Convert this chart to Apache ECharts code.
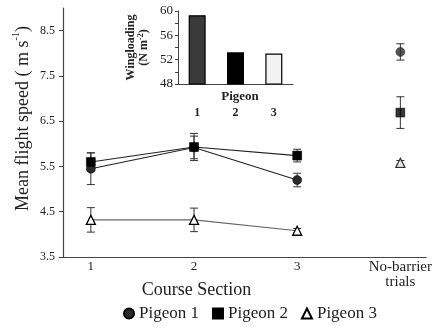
<!DOCTYPE html>
<html><head><meta charset="utf-8">
<script src="https://cdn.jsdelivr.net/npm/echarts@6/dist/echarts.min.js"></script>
<style>html,body{margin:0;padding:0;background:#fff}#c{width:435px;height:326px}</style>
</head><body><div id="c"></div>
<script>
const sections = [1, 2, 3];
const noBarrierX = 4;
const xTickLabels = ['1', '2', '3', 'No-barrier\ntrials'];
const yTickValues = [3.5, 4.5, 5.5, 6.5, 7.5, 8.5];
const pigeonNames = ['Pigeon 1', 'Pigeon 2', 'Pigeon 3'];
const p1Speed = [5.45, 5.92, 5.20];
const p1Err = [0.35, 0.25, 0.15];
const p2Speed = [5.60, 5.93, 5.74];
const p2Err = [0.20, 0.30, 0.14];
const p3Speed = [4.32, 4.32, 4.08];
const p3Err = [0.27, 0.26, 0.05];
const noBarrierSpeed = [8.03, 6.69, 5.58];
const noBarrierErr = [0.18, 0.35, 0.05];
const insetCategories = ['1', '2', '3'];
const wingloading = [59.3, 53.2, 53.0];

const FONT = '"Liberation Serif", "Times New Roman", serif';
const INK = '#222';
const speeds = [p1Speed, p2Speed, p3Speed];
const errs = [p1Err, p2Err, p3Err];
const symbols = ['circle', 'rect', 'triangle'];
const symSizes = [9, 9, 9];
const fills = ['#2a2a2a', '#000', '#fff'];
const lineColors = ['#222', '#222', '#666'];

function errBar(params, api) {
  const x = api.value(0), y = api.value(1), e = api.value(2);
  const top = api.coord([x, y + e]);
  const bot = api.coord([x, y - e]);
  const w = 4;
  const st = { stroke: '#333', lineWidth: 1 };
  return { type: 'group', children: [
    { type: 'line', shape: { x1: top[0], y1: top[1], x2: bot[0], y2: bot[1] }, style: st },
    { type: 'line', shape: { x1: top[0] - w, y1: top[1], x2: top[0] + w, y2: top[1] }, style: st },
    { type: 'line', shape: { x1: bot[0] - w, y1: bot[1], x2: bot[0] + w, y2: bot[1] }, style: st }
  ]};
}

const series = [];
for (let i = 0; i < 3; i++) {
  const itemStyle = { color: fills[i], borderColor: '#000', borderWidth: i === 2 ? 1.3 : 0.5 };
  series.push({
    type: 'custom', xAxisIndex: 0, yAxisIndex: 0, z: 1, renderItem: errBar, silent: true,
    data: sections.map((s, k) => [s, speeds[i][k], errs[i][k]]).concat([[noBarrierX, noBarrierSpeed[i], noBarrierErr[i]]])
  });
  series.push({
    name: pigeonNames[i], type: 'line', xAxisIndex: 0, yAxisIndex: 0, z: 3,
    data: sections.map((s, k) => [s, speeds[i][k]]),
    symbol: symbols[i], symbolSize: symSizes[i], showAllSymbol: true,
    lineStyle: { color: lineColors[i], width: 1.1 }, itemStyle, animation: false
  });
  series.push({
    name: pigeonNames[i], type: 'scatter', xAxisIndex: 0, yAxisIndex: 0, z: 3,
    data: [[noBarrierX, noBarrierSpeed[i]]],
    symbol: symbols[i], symbolSize: symSizes[i], itemStyle, animation: false
  });
}
const barFills = ['#3a3a3a', '#000', '#f2f2f2'];
series.push({
  type: 'bar', xAxisIndex: 1, yAxisIndex: 1, barWidth: 17, animation: false,
  data: wingloading.map((v, i) => ({ value: v, itemStyle: { color: barFills[i], borderColor: '#000', borderWidth: 1.2 } }))
});

const chart = echarts.init(document.getElementById('c'), null, { renderer: 'canvas' });
chart.setOption({
  animation: false,
  textStyle: { fontFamily: FONT, color: INK },
  grid: [
    { left: 63, right: 2, top: 8, bottom: 69 },
    { left: 178, right: 142, top: 11, bottom: 242 }
  ],
  legend: {
    left: 118, top: 300, itemGap: 13, itemWidth: 10, itemHeight: 10,
    textStyle: { fontFamily: FONT, fontSize: 17, color: INK },
    data: pigeonNames.map((n, i) => ({ name: n, icon: symbols[i] }))
  },
  xAxis: [
    { type: 'value', gridIndex: 0, min: 0.73, max: 4.25, splitLine: { show: false },
      axisLine: { lineStyle: { color: '#444', width: 1.2 } }, axisTick: { show: false },
      axisLabel: { customValues: [1, 2, 3, 4], margin: 3, color: INK,
        formatter: v => v === 4 ? '{n|No-barrier}\n{n|trials}' : '{d|' + xTickLabels[v - 1] + '}',
        rich: { n: { fontFamily: FONT, fontSize: 15, lineHeight: 15, color: INK }, d: { fontFamily: FONT, fontSize: 13, color: INK } } },
      name: 'Course Section', nameLocation: 'middle', nameGap: 24, nameMoveOverlap: false,
      nameTextStyle: { fontFamily: FONT, fontSize: 18, color: INK, verticalAlign: 'top', padding: [0, 96, 0, 0] } },
    { type: 'category', gridIndex: 1, data: insetCategories,
      axisLine: { lineStyle: { color: '#444' } }, axisTick: { length: 3, lineStyle: { color: '#444' } },
      axisLabel: { margin: 23, fontFamily: FONT, fontSize: 12, fontWeight: 'bold', color: INK },
      name: 'Pigeon', nameLocation: 'middle', nameGap: 6, nameMoveOverlap: false,
      nameTextStyle: { fontFamily: FONT, fontSize: 13, fontWeight: 'bold', color: INK, verticalAlign: 'top', padding: [0, 0, 0, 9] } }
  ],
  yAxis: [
    { type: 'value', gridIndex: 0, min: 3.5, max: 9, splitLine: { show: false },
      axisLine: { show: true, lineStyle: { color: '#444', width: 1.2 } },
      axisTick: { show: true, customValues: yTickValues, length: 4, lineStyle: { color: '#444' } },
      axisLabel: { customValues: yTickValues, formatter: v => v.toFixed(1), fontFamily: FONT, fontSize: 12, color: INK, margin: 8 },
      name: '{a|Mean flight speed ( m s}{s|-1}{a|)}', nameLocation: 'middle', nameGap: 31, nameMoveOverlap: false,
      nameTextStyle: { padding: [0, 0, 0, 28],
        rich: { a: { fontFamily: FONT, fontSize: 18, color: INK, lineHeight: 21, verticalAlign: 'bottom' },
                s: { fontFamily: FONT, fontSize: 10, color: INK, lineHeight: 21, verticalAlign: 'top' } } } },
    { type: 'value', gridIndex: 1, min: 48, max: 60, interval: 4, splitLine: { show: false },
      axisLine: { show: true, lineStyle: { color: '#444' } },
      axisTick: { show: true, length: 3, lineStyle: { color: '#444' } },
      minorTick: { show: true, splitNumber: 2, length: 3, lineStyle: { color: '#444' } },
      axisLabel: { fontFamily: FONT, fontSize: 13, color: INK, margin: 5 },
      name: '{a|Wingloading}\n{a|(N m}{s|-2}{a|)}', nameLocation: 'middle', nameGap: 28, nameMoveOverlap: false,
      nameTextStyle: {
        rich: { a: { fontFamily: FONT, fontSize: 12, fontWeight: 'bold', color: INK, lineHeight: 13 },
                s: { fontFamily: FONT, fontSize: 8, fontWeight: 'bold', color: INK, lineHeight: 13, verticalAlign: 'top' } } } }
  ],
  series
});
</script></body></html>
